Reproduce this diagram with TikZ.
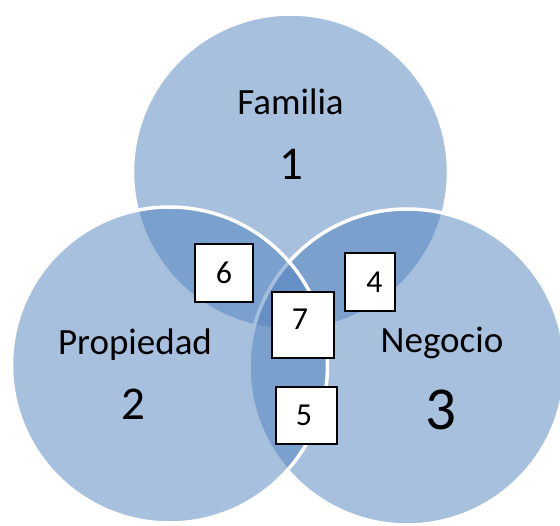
\documentclass[tikz,border=0pt]{standalone}
\usepackage{fontspec}
\setmainfont{Carlito}
\definecolor{vennblue}{RGB}{79,129,189}

\begin{document}
\begin{tikzpicture}[x=1pt,y=-1pt,
  venn/.style={fill=vennblue, fill opacity=0.5, draw=white, line width=3.5pt},
  setname/.style={anchor=base, font=\fontsize{37}{42}\selectfont},
  setcount/.style={anchor=base, font=\fontsize{47}{52}\selectfont},
  numbox/.style={draw=black, fill=white, line width=1.8pt, inner sep=0pt},
  every label/.style={font=\fontsize{32}{36}\selectfont}]

  \useasboundingbox (0,0) rectangle (560,526);
  \clip (0,0) rectangle (560,526);

  % Circles
  \draw[venn] (290.5,172) circle (158);
  \draw[venn] (407,367) circle (158);
  \draw[venn] (169.5,365) circle (158);

  % Names
  \node[setname] (familia) at (290.5,115) {Familia};
  \node[setcount] (uno) at (291,180) {1};
  \node[setname] (propiedad) at (135,355) {Propiedad};
  \node[setcount] (dos) at (133.5,420) {2};
  \node[setname] (negocio) at (442,353) {Negocio};
  \node[setcount, font=\fontsize{61}{66}\selectfont] (tres) at (441,430) {3};

  % Boxes
  \node[numbox, minimum width=58, minimum height=58,
    label={center:6}] (seis) at (224,273) {};
  \node[numbox, minimum width=62, minimum height=66,
    label={[xshift=-3pt, yshift=6pt]center:7}] (siete) at (303,325) {};
  \node[numbox, minimum width=50, minimum height=58,
    label={[xshift=4.5pt]center:4}] (cuatro) at (370,282) {};
  \node[numbox, minimum width=61, minimum height=57,
    label={[xshift=-2.5pt]center:5}] (cinco) at (306.5,415.5) {};
\end{tikzpicture}
\end{document}
